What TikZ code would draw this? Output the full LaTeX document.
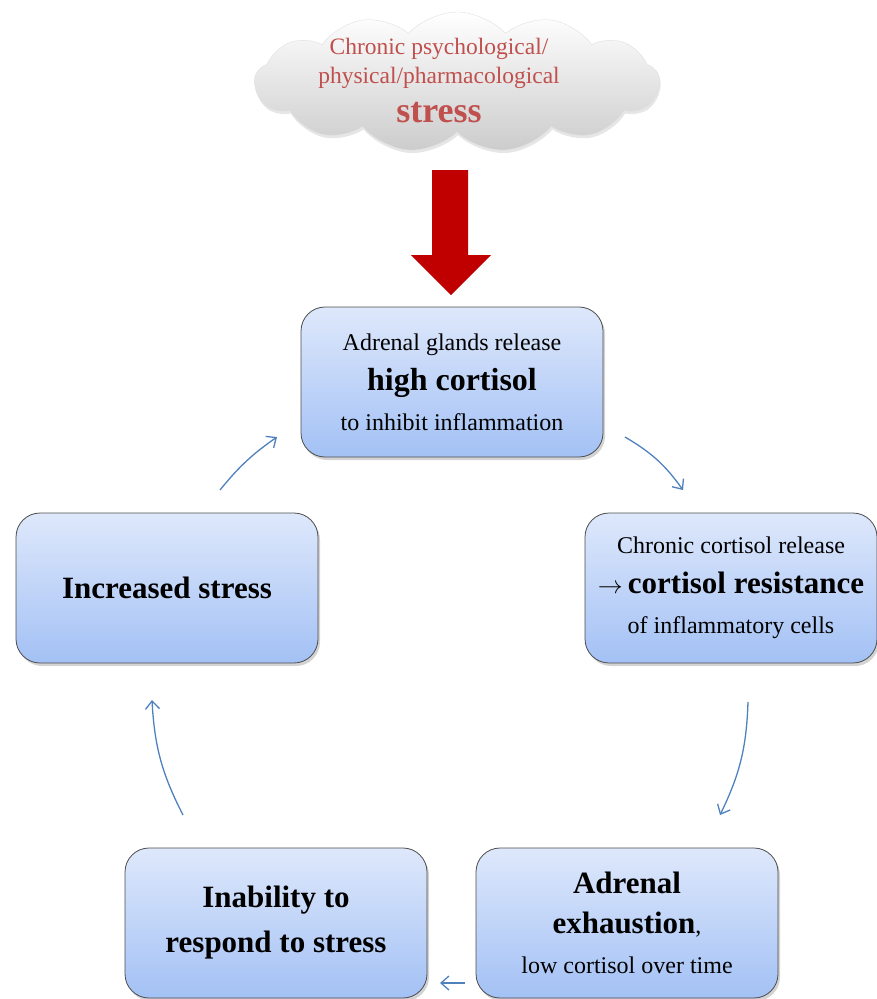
\documentclass[tikz,border=0pt]{standalone}
\usepackage{fontspec}
\setmainfont{Liberation Serif}
\usepackage{xcolor}
\usepackage{tikz}
\usetikzlibrary{shapes.symbols,shadows,arrows.meta}

\definecolor{boxtop}{HTML}{DEE8FB}
\definecolor{boxbottom}{HTML}{A3C1F5}
\definecolor{cyclearrow}{HTML}{4F81BD}
\definecolor{stressred}{HTML}{C0504D}
\definecolor{bigred}{HTML}{C00000}

\tikzset{
  cyclebox/.style={rectangle, rounded corners=24pt, draw=black!70, line width=0.8pt,
    top color=boxtop, bottom color=boxbottom, minimum width=302pt, minimum height=150pt,
    align=center, inner sep=0pt,
    drop shadow={shadow xshift=2pt, shadow yshift=-3pt, opacity=0.35}},
  cyclearr/.style={draw=cyclearrow, line width=1.3pt, -{Straight Barb[length=8pt,width=14pt]}},
  normaltext/.style={font=\fontsize{24}{40}\selectfont},
}

\begin{document}
\begin{tikzpicture}[x=1pt,y=-1pt]
    \useasboundingbox (0,0) rectangle (877,999);

    % stress cloud
    \node [cloud, cloud puffs=13, cloud puff arc=95, cloud ignores aspect,
           minimum width=405pt, minimum height=140pt, inner sep=0pt,
           top color=white, bottom color=black!20, draw=black!12,
           drop shadow={shadow xshift=1pt, shadow yshift=-3pt, opacity=0.2}] (cloud) at (457,82) {};
    \node [align=center, text=stressred, font=\fontsize{23.5}{29}\selectfont] (stresstext) at (439,81)
      {Chronic psychological/\\physical/pharmacological\\[10pt]
       {\fontsize{36}{29}\selectfont\bfseries stress}};

    % big red arrow
    \fill [bigred] (432,170) -- (468,170) -- (468,255) -- (491,255) -- (451,295)
                   -- (411,255) -- (432,255) -- cycle;

    \node [cyclebox, normaltext] (top) at (452,382)
      {Adrenal glands release\\
       {\fontsize{32}{40}\selectfont\bfseries high cortisol}\\
       to inhibit inflammation};
    \node [cyclebox, normaltext, minimum width=292pt] (right) at (731,588)
      {Chronic cortisol release\\
       {\fontsize{31}{40}\selectfont$\rightarrow$\,\bfseries cortisol resistance}\\
       of inflammatory cells};
    \node [cyclebox, font=\fontsize{31}{40}\selectfont\bfseries] (left) at (167,588)
      {Increased stress};
    \node [cyclebox, font=\fontsize{31}{45}\selectfont\bfseries] (botleft) at (276,923)
      {Inability to\\respond to stress};
    \node [cyclebox, normaltext] (botright) at (627,923)
      {{\fontsize{31}{34}\selectfont\bfseries Adrenal}\\
       {\fontsize{31}{34}\selectfont\bfseries exhaustion},\\
       low cortisol over time};

    % cycle arrows
    \coordinate (a1) at (625,437);
    \coordinate (b1) at (683,490);
    \coordinate (a2) at (748,702);
    \coordinate (b2) at (720,815);
    \coordinate (a3) at (465,983);
    \coordinate (b3) at (440,983);
    \coordinate (a4) at (183,815);
    \coordinate (b4) at (152,700);
    \coordinate (a5) at (220,490);
    \coordinate (b5) at (277,437);
    \draw [cyclearr] (a1) to[bend left=12] (b1);
    \draw [cyclearr] (a2) to[bend left=12] (b2);
    \draw [cyclearr] (a3) -- (b3);
    \draw [cyclearr] (a4) to[bend left=12] (b4);
    \draw [cyclearr] (a5) to[bend left=8] (b5);
\end{tikzpicture}
\end{document}
